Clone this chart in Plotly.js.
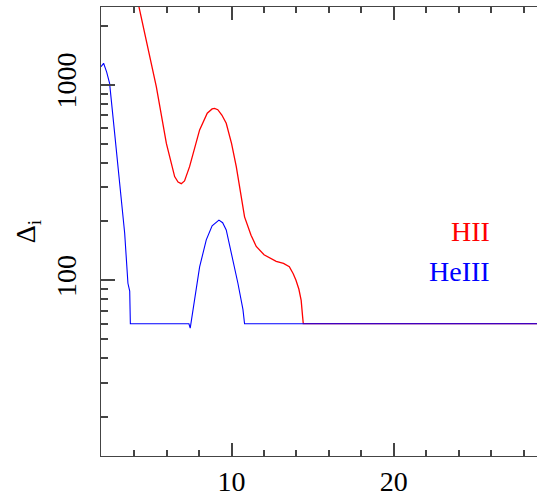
<!DOCTYPE html>
<html>
<head>
<meta charset="utf-8">
<script src="https://cdn.plot.ly/plotly-3.0.1.min.js"></script>
<style>html,body{margin:0;padding:0;overflow:hidden;background:#fff;}#chart{width:557px;height:500px;}</style>
</head>
<body>
<div id="chart"></div>
<script>
// Data
var hiiX = [3.5, 4.0, 4.3, 4.8, 5.36, 5.98, 6.49, 6.7, 6.9, 7.1, 7.41, 8.03, 8.5, 8.8, 8.95, 9.15, 9.4, 9.67, 10.0, 10.29, 10.8, 11.2, 11.52, 12.0, 12.75, 13.2, 13.56, 13.8, 13.97, 14.15, 14.29, 14.38, 14.42, 30];
var hiiY = [5000, 3240, 2500, 1630, 977, 501, 339, 318, 312, 322, 381, 587, 715, 752, 757, 745, 700, 635, 500, 381, 211, 170, 149, 135, 125, 122, 117.5, 108, 100, 90, 79, 65, 60, 60];
var heiiiX = [1.95, 2.11, 2.3, 2.48, 2.79, 3.1, 3.41, 3.61, 3.72, 3.76, 7.37, 7.45, 7.6, 8.03, 8.44, 8.8, 9.22, 9.45, 9.67, 10.08, 10.39, 10.7, 10.8, 30];
var heiiiY = [1236, 1286, 1160, 1016, 565, 301, 174, 96.6, 88, 60, 60, 57, 68, 117, 161, 190, 203, 197, 181, 127, 96.6, 71, 60, 60];
var seriesNames = ["HII", "HeIII"];
var seriesColors = ["#ff0000", "#0000ff"];
var xMajorTicks = [10, 20, 30];
var xMinorTicks = [2, 4, 6, 8, 12, 14, 16, 18, 22, 24, 26, 28];
var yMajorTicks = [100, 1000];
var yMinorTicks = [20, 30, 40, 50, 60, 70, 80, 90, 200, 300, 400, 500, 600, 700, 800, 900, 2000];
var yTitle = "Δ<sub>i</sub>";

var fontFam = "Liberation Serif";
var tickCol = "#444";
var traces = [
  {x: hiiX, y: hiiY, name: seriesNames[0], mode: "lines", line: {color: seriesColors[0], width: 1.3}},
  {x: heiiiX, y: heiiiY, name: seriesNames[1], mode: "lines", line: {color: seriesColors[1], width: 1.1}}
];
var layout = {
  width: 557, height: 500,
  margin: {l: 101, r: 1, t: 7, b: 44},
  showlegend: false,
  xaxis: {range: [1.95, 30], showline: true, mirror: "ticks",
    ticks: "inside", ticklen: 13, tickwidth: 2, tickcolor: tickCol,
    tickmode: "array", tickvals: xMajorTicks, showgrid: false, zeroline: false,
    tickfont: {family: fontFam, size: 28, color: "#000"},
    minor: {tickmode: "array", tickvals: xMinorTicks, ticks: "inside", ticklen: 6, tickwidth: 2, tickcolor: tickCol, showgrid: false}},
  yaxis: {type: "log", range: [1.102, 3.397], showline: true, mirror: "ticks",
    ticks: "inside", ticklen: 14, tickwidth: 2, tickcolor: tickCol,
    tickmode: "array", tickvals: yMajorTicks, ticktext: yMajorTicks.map(String), showgrid: false, zeroline: false,
    tickangle: -90, ticklabelstandoff: 13, tickfont: {family: fontFam, size: 28, color: "#000"},
    minor: {tickmode: "array", tickvals: yMinorTicks, ticks: "inside", ticklen: 7, tickwidth: 2, tickcolor: tickCol, showgrid: false},
    title: {text: yTitle, font: {family: fontFam, size: 28, color: "#000"}}},
  annotations: [
    {xref: "paper", yref: "paper", x: 0.859, y: 0.499, xanchor: "right", yanchor: "middle", text: seriesNames[0], showarrow: false, font: {family: fontFam, size: 28, color: seriesColors[0]}},
    {xref: "paper", yref: "paper", x: 0.859, y: 0.410, xanchor: "right", yanchor: "middle", text: seriesNames[1], showarrow: false, font: {family: fontFam, size: 28, color: seriesColors[1]}}
  ]
};
Plotly.newPlot("chart", traces, layout, {displayModeBar: false, staticPlot: true});
</script>
</body>
</html>
